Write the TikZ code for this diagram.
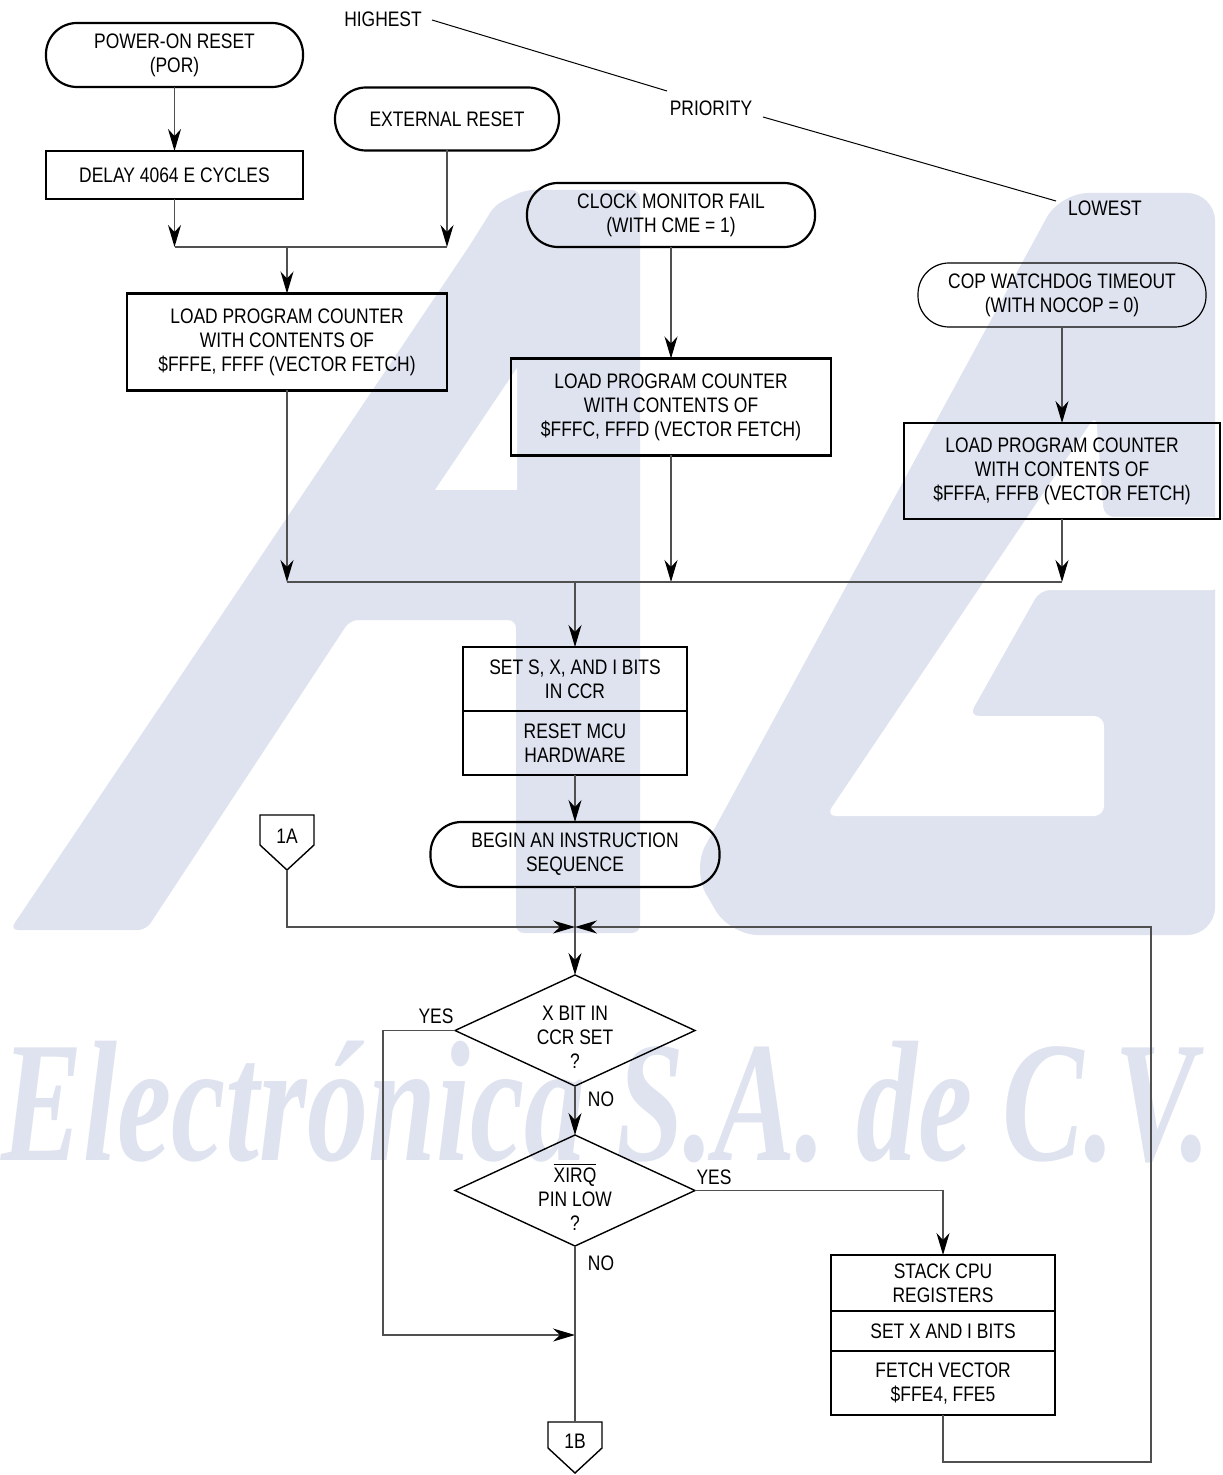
\documentclass[tikz,border=0pt]{standalone}
\usepackage{fontspec}
\setmainfont{Liberation Sans}[FakeStretch=0.83]
\newfontfamily\wmfont{Liberation Serif}
\usetikzlibrary{arrows.meta,shapes.geometric}
\definecolor{wm}{RGB}{222,227,239}
\definecolor{connc}{RGB}{80,80,80}
\begin{document}
\begin{tikzpicture}[x=0.5pt,y=-0.5pt,
  every node/.style={font=\fontsize{10.5}{12}\selectfont, inner sep=0pt, outer sep=0pt, align=center},
  box/.style={draw, line width=1.1pt},
  term/.style={draw, line width=1.1pt, rounded corners=15.5pt},
  thinterm/.style={draw, line width=0.6pt, rounded corners=15.5pt},
  dia/.style={draw, diamond, line width=0.7pt, minimum width=120pt, minimum height=55.5pt},
  conn/.style={draw=connc, line width=0.7pt},
  arr/.style={conn, -{Stealth[length=11pt, width=6.5pt, inset=3.5pt, color=black]}},
  pline/.style={draw=black, line width=0.5pt},
  pent/.style={draw=black, line width=0.7pt}
]
\useasboundingbox (0,0) rectangle (1222,1475);
% ---- watermark ----
\fill[wm, rounded corners=4pt] (10,930) -- (470,245) -- (495,205) -- (525,190) -- (640,190) -- (640,933) -- (516,933) -- (516,620) -- (350,620) -- (146,930) -- cycle;
\fill[white] (435,490) -- (517,490) -- (517,368) -- cycle;
\fill[wm, rounded corners=14pt] (1060,193) -- (1215,193) -- (1215,935) -- (730,935) -- (692,870) -- cycle;
\fill[white, rounded corners=5pt] (1096,415) -- (1104,517) -- (1222,517) -- (1222,590) -- (1040,590) -- (969,716) -- (1104,716) -- (1104,816) -- (826,816) -- cycle;
\node[anchor=base west, text=wm, xscale=0.71, font=\wmfont\bfseries\itshape\fontsize{86}{86}\selectfont] (wmtext) at (2,1160) {Electrónica S.A. de C.V.};
% ---- nodes ----
\node[term, minimum width=128.5pt, minimum height=32pt] (por) at (174.5,55) {POWER-ON RESET\\(POR)};
\node[term, minimum width=112pt, minimum height=31.5pt] (ext) at (447,119) {EXTERNAL RESET};
\node[box, minimum width=128.5pt, minimum height=24pt] (delay) at (174.5,175) {DELAY 4064 E CYCLES};
\node[box, minimum width=160pt, minimum height=48.5pt] (load1) at (287,342) {LOAD PROGRAM COUNTER\\WITH CONTENTS OF\\\$FFFE, FFFF (VECTOR FETCH)};
\node[term, minimum width=144pt, minimum height=32pt] (clk) at (671,215) {CLOCK MONITOR FAIL\\(WITH CME = 1)};
\node[box, minimum width=160pt, minimum height=48.5pt] (load2) at (671,407) {LOAD PROGRAM COUNTER\\WITH CONTENTS OF\\\$FFFC, FFFD (VECTOR FETCH)};
\node[thinterm, minimum width=144pt, minimum height=32pt] (cop) at (1062,295) {COP WATCHDOG TIMEOUT\\(WITH NOCOP = 0)};
\node[box, minimum width=158pt, minimum height=48pt] (load3) at (1062,471) {LOAD PROGRAM COUNTER\\WITH CONTENTS OF\\\$FFFA, FFFB (VECTOR FETCH)};
\node[box, minimum width=112pt, minimum height=32pt] (seta) at (575,679) {SET S, X, AND I BITS\\IN CCR};
\node[box, minimum width=112pt, minimum height=32pt] (setb) at (575,743) {RESET MCU\\HARDWARE};
\node[term, minimum width=144.5pt, minimum height=32.5pt] (begin) at (575,854.5) {BEGIN AN INSTRUCTION\\SEQUENCE};
\node[dia] (d1) at (575,1030.5) {};
\node (d1t) at (575,1037) {X BIT IN\\CCR SET\\?};
\node[dia] (d2) at (575,1190.5) {};
\node (d2t) at (575,1197) {$\overline{\hbox{XIRQ}}$\\PIN LOW\\?};
\node[box, minimum width=112pt, minimum height=28pt] (st1) at (943,1283) {STACK CPU\\REGISTERS};
\node[box, minimum width=112pt, minimum height=20pt] (st2) at (943,1331) {SET X AND I BITS};
\node[box, minimum width=112pt, minimum height=32pt] (st3) at (943,1383) {FETCH VECTOR\\\$FFE4, FFE5};
% off-page connectors
\draw[pent] (260,815) -- (314,815) -- (314,845) -- (287,870) -- (260,845) -- cycle;
\node (c1a) at (287,836) {1A};
\coordinate (c1atip) at (287,870);
\draw[pent] (548,1422) -- (602,1422) -- (602,1448) -- (575,1473) -- (548,1448) -- cycle;
\node (c1b) at (575,1441) {1B};
\coordinate (c1btop) at (575,1422);
% labels
\node (yes1) at (436,1016) {YES};
\node (no1) at (601,1099) {NO};
\node (yes2) at (714,1177) {YES};
\node (no2) at (601,1263) {NO};
\node (hi) at (383,19) {HIGHEST};
\node (pri) at (711,108) {PRIORITY};
\node (lo) at (1105,208) {LOWEST};
% coordinates
\coordinate (j1a) at (174.5,247);
\coordinate (j1b) at (447,247);
\coordinate (j1c) at (287,247);
\coordinate (j2a) at (287,582);
\coordinate (j2b) at (671,582);
\coordinate (j2c) at (1062,582);
\coordinate (j2m) at (575,582);
\coordinate (j3) at (575,927);
\coordinate (la) at (287,927);
\coordinate (rb1) at (943,1462);
\coordinate (rb2) at (1151,1462);
\coordinate (rb3) at (1151,927);
\coordinate (yl1) at (383,1030.5);
\coordinate (yl2) at (383,1335);
\coordinate (yl3) at (575,1335);
\coordinate (yr1) at (943,1190.5);
\coordinate (p1) at (432,20);
\coordinate (p2) at (667,91);
\coordinate (p3) at (763,117);
\coordinate (p4) at (1056,201);
% connectors
\draw[pline] (p1) -- (p2);
\draw[pline] (p3) -- (p4);
\draw[arr] (por) -- (delay);
\draw[arr] (delay) -- (j1a);
\draw[arr] (ext) -- (j1b);
\draw[conn] (j1a) -- (j1b);
\draw[arr] (j1c) -- (load1);
\draw[arr] (load1) -- (j2a);
\draw[arr] (clk) -- (load2);
\draw[arr] (load2) -- (j2b);
\draw[arr] (cop) -- (load3);
\draw[arr] (load3) -- (j2c);
\draw[conn] (j2a) -- (j2c);
\draw[arr] (j2m) -- (seta);
\draw[arr] (setb) -- (begin);
\draw[arr] (begin) -- (d1);
\draw[arr] (c1atip) -- (la) -- (j3);
\draw[arr] (st3) -- (rb1) -- (rb2) -- (rb3) -- (j3);
\draw[arr] (d1.west) -- (yl1) -- (yl2) -- (yl3);
\draw[arr] (d1) -- (d2);
\draw[arr] (d2.east) -- (yr1) -- (st1);
\draw[conn] (d2) -- (c1btop);
\end{tikzpicture}
\end{document}
